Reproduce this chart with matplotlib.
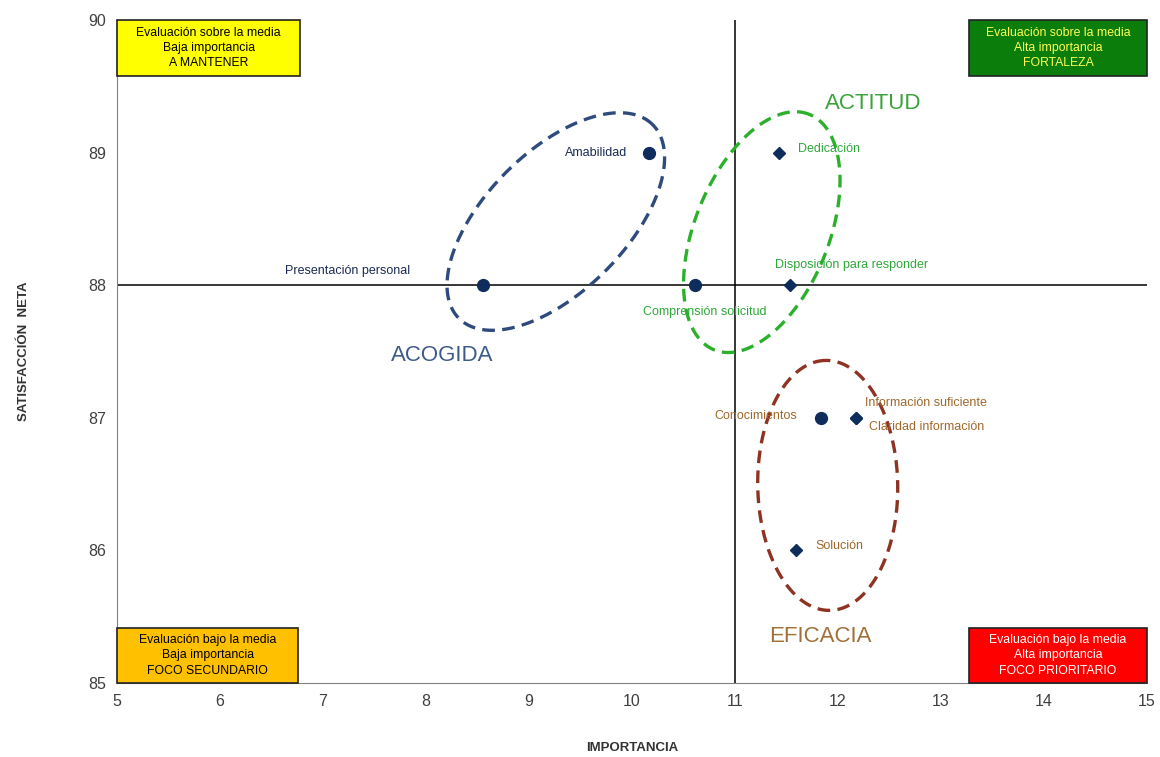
import matplotlib
matplotlib.use("Agg")
import matplotlib.pyplot as plt
import numpy as np
from matplotlib.patches import Rectangle

plt.rcParams["font.family"] = ["Liberation Sans", "DejaVu Sans"]

# atributos: importancia (x) y satisfacción neta (y)
atributos = ["Presentación personal", "Amabilidad", "Comprensión solicitud",
             "Dedicación", "Disposición para responder", "Conocimientos",
             "Información suficiente", "Claridad información", "Solución"]
importancia = [8.55, 10.16, 10.61, 11.43, 11.53, 11.83, 12.17, 12.17, 11.59]
satisfaccion = [88.0, 89.0, 88.0, 89.0, 88.0, 87.0, 87.0, 87.0, 86.0]
grupo = ["ACOGIDA", "ACOGIDA", "ACTITUD", "ACTITUD", "ACTITUD",
         "EFICACIA", "EFICACIA", "EFICACIA", "EFICACIA"]
marcador = ["o", "o", "o", "D", "D", "o", "D", "D", "D"]

media_importancia = 11
media_satisfaccion = 88

colores_grupo = {"ACOGIDA": "#2f4b7c", "ACTITUD": "#2bb02b", "EFICACIA": "#8e3322"}
colores_texto = {"ACOGIDA": "#1c2b55", "ACTITUD": "#2fa83a", "EFICACIA": "#a0682c"}
colores_titulo = {"ACOGIDA": "#3d5a8a", "ACTITUD": "#3aa33a", "EFICACIA": "#a07038"}

# posición de cada etiqueta (x, y, alineación)
pos_etiqueta = [(7.85, 88.11, "right"), (9.95, 89.0, "right"), (10.11, 87.80, "left"),
                (11.61, 89.03, "left"), (11.39, 88.15, "left"), (11.60, 87.01, "right"),
                (12.26, 87.11, "left"), (12.30, 86.93, "left"), (11.78, 86.03, "left")]
pos_titulo = {"ACOGIDA": (8.16, 87.47), "ACTITUD": (12.34, 89.37), "EFICACIA": (11.83, 85.35)}

# elipses: centro, semiejes (px), ángulo
elipses = {"ACOGIDA": ((9.26, 88.48), 137, 70, 45),
           "ACTITUD": ((11.26, 88.40), 127, 67, 68),
           "EFICACIA": ((11.90, 86.49), 125, 70, 91)}

cuadrantes = [
    ((5, 89.58), 1.78, 0.42, "#ffff00", "black",
     "Evaluación sobre la media\nBaja importancia\nA MANTENER"),
    ((13.27, 89.58), 1.73, 0.42, "#0a7d0a", "#ffff55",
     "Evaluación sobre la media\nAlta importancia\nFORTALEZA"),
    ((5, 85.0), 1.76, 0.415, "#ffc000", "black",
     "Evaluación bajo la media\nBaja importancia\nFOCO SECUNDARIO"),
    ((13.27, 85.0), 1.73, 0.415, "#ff0000", "white",
     "Evaluación bajo la media\nAlta importancia\nFOCO PRIORITARIO"),
]

fig = plt.figure(figsize=(11.6, 7.57), dpi=100)
ax = fig.add_axes([0.1009, 0.0978, 0.8879, 0.8758])
ax.set_xlim(5, 15)
ax.set_ylim(85, 90)

ax.axvline(media_importancia, color="black", lw=1.1, zorder=2)
ax.axhline(media_satisfaccion, color="black", lw=1.1, zorder=2)

for (x0, y0), w, h, fc, tc, txt in cuadrantes:
    ax.add_patch(Rectangle((x0, y0), w, h, facecolor=fc, edgecolor="#222222",
                           lw=1.2, zorder=3, clip_on=False))
    ax.text(x0 + w / 2, y0 + h / 2, txt, ha="center", va="center", fontsize=8.8,
            color=tc, linespacing=1.35, zorder=4)

# escala px por unidad de datos
px_x = 1160 * 0.8879 / 10
px_y = 757 * 0.8758 / 5
t = np.linspace(0, 2 * np.pi, 300)
for g, ((cx, cy), a, b, ang) in elipses.items():
    th = np.deg2rad(ang)
    ex = a * np.cos(t) * np.cos(th) - b * np.sin(t) * np.sin(th)
    ey = a * np.cos(t) * np.sin(th) + b * np.sin(t) * np.cos(th)
    ax.plot(cx + ex / px_x, cy + ey / px_y, color=colores_grupo[g], lw=2.4,
            linestyle=(0, (3.8, 2.2)), zorder=3)
    tx, ty = pos_titulo[g]
    ax.text(tx, ty, g, ha="center", va="center", fontsize=16,
            color=colores_titulo[g], zorder=4)

for i, nombre in enumerate(atributos):
    size = 8.5 if marcador[i] == "o" else 6.5
    ax.plot(importancia[i], satisfaccion[i], marker=marcador[i], color="#0f2d5c",
            markersize=size, linestyle="none", zorder=5)
    lx, ly, ha = pos_etiqueta[i]
    ax.text(lx, ly, nombre, ha=ha, va="center", fontsize=9,
            color=colores_texto[grupo[i]], zorder=4)

for s in ["top", "right"]:
    ax.spines[s].set_visible(False)
for s in ["left", "bottom"]:
    ax.spines[s].set_color("#808080")
ax.set_xticks(range(5, 16))
ax.set_yticks(range(85, 91))
ax.tick_params(length=0, labelsize=11.5, labelcolor="#404040", pad=8)
ax.set_xlabel("IMPORTANCIA", fontsize=9.5, fontweight="bold", color="#333333", labelpad=24)
ax.set_ylabel("SATISFACCIÓN  NETA", fontsize=9.5, fontweight="bold", color="#333333", labelpad=42)

fig.savefig("out.png", dpi=100)
